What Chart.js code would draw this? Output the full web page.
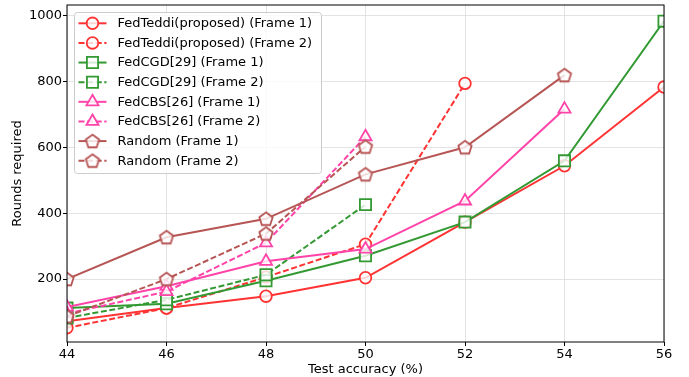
<!DOCTYPE html>
<html>
<head>
<meta charset="utf-8">
<script src="https://cdn.jsdelivr.net/npm/chart.js@4.4.1/dist/chart.umd.min.js"></script>
<style>
  html, body { margin: 0; padding: 0; background: #fff; }
  canvas { display: block; }
</style>
</head>
<body>
<canvas id="chart" width="689" height="377"></canvas>
<script>
// x values (test accuracy, %)
const accuracy = [44, 46, 48, 50, 52, 54, 56];
const yTicks = [200, 400, 600, 800, 1000];

// rounds required (series stop where the curve stops)
const teddiF1 = [72, 112, 148, 204, 373, 544, 783];
const teddiF2 = [52, 112, 206, 306, 794];
const cgdF1 = [112, 125, 195, 271, 373, 559, 983];
const cgdF2 = [82, 137, 213, 426];
const cbsF1 = [115, 178, 254, 291, 437, 716];
const cbsF2 = [95, 162, 310, 632];
const randomF1 = [200, 327, 383, 518, 600, 819];
const randomF2 = [87, 200, 338, 602];

const labels = [
  "FedTeddi(proposed) (Frame 1)",
  "FedTeddi(proposed) (Frame 2)",
  "FedCGD[29] (Frame 1)",
  "FedCGD[29] (Frame 2)",
  "FedCBS[26] (Frame 1)",
  "FedCBS[26] (Frame 2)",
  "Random (Frame 1)",
  "Random (Frame 2)",
];

const RED = "#ff3333";
const GREEN = "#339933";
const PINK = "#ff43a9";
const BROWN = "#b75555";
const FACE = "rgba(255,255,255,0.8)";
const DASH = [6, 2.6];

// chart.js has no pentagon, so make one as a small canvas
function makePentagon(color) {
  const c = document.createElement("canvas");
  c.width = 20;
  c.height = 20;
  const g = c.getContext("2d");
  const r = 7;
  g.beginPath();
  for (let k = 0; k < 5; k++) {
    const a = -Math.PI / 2 + k * 2 * Math.PI / 5;
    const px = 10 + r * Math.cos(a);
    const py = 10.6 + r * Math.sin(a);
    if (k === 0) g.moveTo(px, py); else g.lineTo(px, py);
  }
  g.closePath();
  g.fillStyle = FACE;
  g.fill();
  g.lineWidth = 1.8;
  g.strokeStyle = color;
  g.stroke();
  return c;
}
const pentagon = makePentagon(BROWN);

const toPoints = (vals) => vals.map((v, i) => ({ x: accuracy[i], y: v }));

const series = [
  [teddiF1, RED, "circle", 5.8, false],
  [teddiF2, RED, "circle", 5.8, true],
  [cgdF1, GREEN, "rect", 7.9, false],
  [cgdF2, GREEN, "rect", 7.9, true],
  [cbsF1, PINK, "triangle", 7, false],
  [cbsF2, PINK, "triangle", 7, true],
  [randomF1, BROWN, pentagon, 7, false],
  [randomF2, BROWN, pentagon, 7, true],
];

const datasets = series.map(([vals, color, style, radius, dashed], i) => ({
  label: labels[i],
  data: toPoints(vals),
  borderColor: color,
  borderWidth: 2,
  borderDash: dashed ? DASH : [],
  pointStyle: style,
  pointRadius: radius,
  pointBorderWidth: 1.8,
  pointBackgroundColor: FACE,
  pointBorderColor: color,
  fill: false,
  tension: 0,
  clip: 0,
  order: 10 - i,
}));

// black frame round the plot plus the legend box in the upper left
const framePlugin = {
  id: "frame",
  afterDatasetsDraw(chart) {
    const ctx = chart.ctx;
    const a = chart.chartArea;
    ctx.save();
    ctx.strokeStyle = "#000";
    ctx.lineWidth = 1;
    ctx.strokeRect(a.left, a.top, a.right - a.left, a.bottom - a.top);

    // legend
    const x0 = a.left + 7.5;
    const y0 = a.top + 7.5;
    const w = 247;
    const h = 161;
    const r = 3;
    ctx.beginPath();
    ctx.moveTo(x0 + r, y0);
    ctx.lineTo(x0 + w - r, y0);
    ctx.arcTo(x0 + w, y0, x0 + w, y0 + r, r);
    ctx.lineTo(x0 + w, y0 + h - r);
    ctx.arcTo(x0 + w, y0 + h, x0 + w - r, y0 + h, r);
    ctx.lineTo(x0 + r, y0 + h);
    ctx.arcTo(x0, y0 + h, x0, y0 + h - r, r);
    ctx.lineTo(x0, y0 + r);
    ctx.arcTo(x0, y0, x0 + r, y0, r);
    ctx.closePath();
    ctx.fillStyle = "rgba(255,255,255,0.8)";
    ctx.fill();
    ctx.strokeStyle = "#cccccc";
    ctx.stroke();

    ctx.font = "13px 'DejaVu Sans'";
    ctx.textBaseline = "middle";
    ctx.textAlign = "left";
    chart.data.datasets.forEach((ds, i) => {
      const y = y0 + 10.8 + i * 19.63;
      ctx.strokeStyle = ds.borderColor;
      ctx.lineWidth = 2;
      ctx.setLineDash(ds.borderDash);
      ctx.beginPath();
      ctx.moveTo(x0 + 4, y);
      ctx.lineTo(x0 + 32, y);
      ctx.stroke();
      ctx.setLineDash([]);
      ctx.fillStyle = ds.pointBackgroundColor;
      ctx.strokeStyle = ds.pointBorderColor;
      ctx.lineWidth = ds.pointBorderWidth;
      Chart.helpers.drawPoint(ctx, {
        pointStyle: ds.pointStyle,
        radius: ds.pointRadius,
        borderWidth: ds.pointBorderWidth,
        rotation: 0,
      }, x0 + 18, y);
      ctx.fillStyle = "#000";
      ctx.fillText(ds.label, x0 + 43, y + 0.5);
    });
    ctx.restore();
  },
};

const font = { family: "'DejaVu Sans'", size: 13 };

new Chart(document.getElementById("chart"), {
  type: "line",
  data: { datasets },
  plugins: [framePlugin],
  options: {
    responsive: false,
    animation: false,
    // autoPadding would add room for the big markers, which shifts the plot
    layout: { autoPadding: false, padding: { left: 0, right: 25, top: 5, bottom: 0 } },
    plugins: {
      legend: { display: false },
      tooltip: { enabled: false },
    },
    scales: {
      x: {
        type: "linear",
        min: 44,
        max: 56,
        afterBuildTicks: (s) => { s.ticks = accuracy.map((v) => ({ value: v })); },
        afterFit: (s) => { s.height = 35; s.paddingLeft = 0; s.paddingRight = 0; },
        grid: { color: "#dcdcdc", lineWidth: 0.8, tickColor: "#000", tickLength: 4, tickWidth: 1 },
        border: { display: false },
        ticks: { color: "#000", font, padding: 1, maxRotation: 0 },
        title: { display: true, text: "Test accuracy (%)", color: "#000", font, padding: { top: 2, bottom: 0 } },
      },
      y: {
        type: "linear",
        min: 9,
        max: 1032,
        afterBuildTicks: (s) => { s.ticks = yTicks.map((v) => ({ value: v })); },
        afterFit: (s) => { s.width = 67; s.paddingTop = 0; s.paddingBottom = 0; },
        grid: { color: "#dcdcdc", lineWidth: 0.8, tickColor: "#000", tickLength: 4, tickWidth: 1 },
        border: { display: false },
        ticks: { color: "#000", font, padding: 1, callback: (v) => String(v) },
        title: { display: true, text: "Rounds required", color: "#000", font, padding: { top: 10, bottom: 0 } },
      },
    },
  },
});
</script>
</body>
</html>
